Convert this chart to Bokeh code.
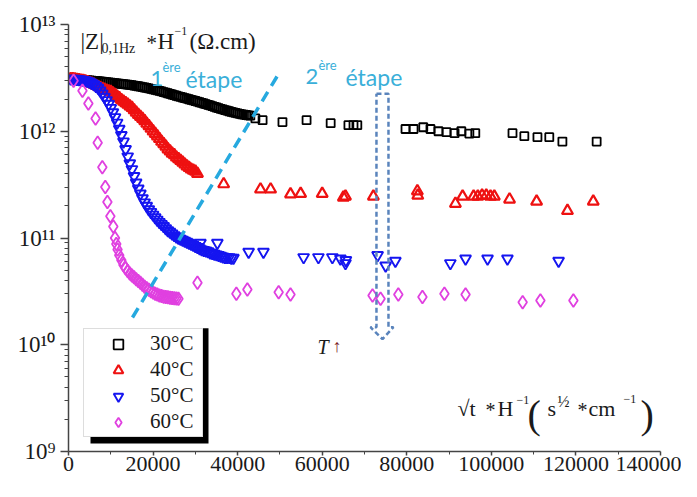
from bokeh.plotting import figure
from bokeh.models import (Legend, LegendItem, Label, BoxAnnotation, FixedTicker,
                          NumeralTickFormatter)
from bokeh.embed import file_html
from bokeh.resources import INLINE

# ---------------- data ----------------
# 30 °C  (|Z| in units of 1e12)
x30 = [500, 1000, 1500, 2000, 2500, 3000, 3500, 4000, 4500, 5000, 5500, 6000, 6500, 7000,
       7500, 8000, 8500, 9000, 9500, 10000, 10500, 11000, 11500, 12000, 12500, 13000,
       13500, 14000, 14500, 15000, 15500, 16000, 16500, 17000, 17500, 18000, 18500,
       19000, 19500, 20000, 20500, 21000, 21500, 22000, 22500, 23000, 23500, 24000,
       24500, 25000, 25500, 26000, 26500, 27000, 27500, 28000, 28500, 29000, 29500,
       30000, 30500, 31000, 31500, 32000, 32500, 33000, 33500, 34000, 34500, 35000,
       35500, 36000, 36500, 37000, 37500, 38000, 38500, 39000, 39500, 40000, 40500,
       41000, 41500, 42000, 42500, 43000,
       44200, 45900, 50600, 56300, 62000, 66200, 67400, 68300,
       79700, 81600, 83900, 85600, 87500, 89400, 91300, 92900, 94800, 96200,
       105000, 107800, 110900, 113700, 116800, 124900]
z30 = [3.09, 3.08, 3.07, 3.06, 3.05, 3.04, 3.03, 3.02, 3.01, 3.00, 2.98, 2.97, 2.955, 2.94,
       2.925, 2.91, 2.895, 2.88, 2.865, 2.85, 2.835, 2.82, 2.805, 2.79, 2.775, 2.76,
       2.745, 2.73, 2.715, 2.70, 2.68, 2.66, 2.64, 2.62, 2.595, 2.57, 2.545,
       2.52, 2.495, 2.47, 2.445, 2.42, 2.39, 2.36, 2.33, 2.30, 2.27, 2.24,
       2.21, 2.18, 2.15, 2.12, 2.095, 2.07, 2.045, 2.02, 1.995, 1.97, 1.945,
       1.92, 1.895, 1.87, 1.845, 1.82, 1.795, 1.77, 1.745, 1.72, 1.695, 1.67,
       1.645, 1.62, 1.60, 1.58, 1.56, 1.54, 1.52, 1.50, 1.485, 1.47, 1.455,
       1.44, 1.43, 1.42, 1.41, 1.40,
       1.32, 1.27, 1.22, 1.27, 1.19, 1.14, 1.14, 1.14,
       1.05, 1.05, 1.09, 1.05, 1.00, 0.98, 0.96, 1.00, 0.95, 0.96,
       0.96, 0.90, 0.88, 0.88, 0.80, 0.80]

# 40 °C (units of 1e12)
x40 = [500, 1000, 1500, 2000, 2500, 3000, 3500, 4000, 4500, 5000, 5500, 6000, 6500, 7000,
       7500, 8000, 8500, 9000, 9500, 10000, 10500, 11000, 11500, 12000, 12500, 13000,
       13500, 14000, 14500, 15000, 15500, 16000, 16500, 17000, 17500, 18000, 18500,
       19000, 19500, 20000, 20500, 21000, 21500, 22000, 22500, 23000, 23500, 24000,
       24500, 25000, 25500, 26000, 26500, 27000, 27500, 28000, 28500, 29000, 29500,
       30000, 30500,
       36700, 45400, 47800, 52500, 54900, 60000, 65000, 65500, 72100, 82500, 82600,
       91500, 93200, 95800, 96800, 97800, 98800, 99800, 100700, 104300, 110700,
       118000, 124100]
z40 = [3.10, 3.10, 3.08, 3.05, 3.03, 3.00, 2.98, 2.95, 2.90, 2.85, 2.80, 2.75, 2.68, 2.62,
       2.56, 2.50, 2.46, 2.42, 2.38, 2.35, 2.28, 2.20, 2.12, 2.05, 1.97, 1.90,
       1.84, 1.78, 1.72, 1.66, 1.58, 1.50, 1.43, 1.37, 1.31, 1.25, 1.18,
       1.12, 1.06, 1.00, 0.95, 0.90, 0.85, 0.80, 0.76, 0.72, 0.68, 0.65,
       0.62, 0.60, 0.57, 0.55, 0.53, 0.51, 0.49, 0.47, 0.455, 0.44, 0.43,
       0.42, 0.40,
       0.32, 0.286, 0.286, 0.257, 0.26, 0.26, 0.24, 0.245, 0.245, 0.275, 0.25,
       0.21, 0.245, 0.245, 0.245, 0.25, 0.25, 0.245, 0.245, 0.23, 0.22,
       0.18, 0.22]

# 50 °C (units of 1e12)
x50 = [500, 1000, 1500, 2000, 2500, 3000, 3500, 4000, 4500, 5000, 5500, 6000, 6500, 7000,
       7500, 8000, 8500, 9000, 9500, 10000, 10500, 11000, 11500, 12000, 12500, 13000,
       13500, 14000, 14500, 15000, 15500, 16000, 16500, 17000, 17500, 18000, 18500,
       19000, 19500, 20000, 20500, 21000, 21500, 22000, 22500, 23000, 23500, 24000,
       24500, 25000, 25500, 26000, 26500, 27000, 27500, 28000, 28500, 29000, 29500,
       30000, 30500, 31000, 31500, 32000, 32500, 33000, 33500, 34000, 34500, 35000,
       35500, 36000, 36500, 37000, 37500, 38000, 38500, 39000,
       31200, 35200, 42600, 46100, 55600, 59100, 62400, 64300, 65500, 65600,
       73100, 75000, 77300, 90300, 93900, 99100, 103800, 115900]
z50 = [3.10, 3.10, 3.09, 3.08, 3.06, 3.05, 3.02, 3.00, 2.95, 2.90, 2.82, 2.75, 2.65, 2.55,
       2.40, 2.25, 2.10, 1.95, 1.80, 1.65, 1.50, 1.35, 1.20, 1.05, 0.92, 0.80,
       0.68, 0.58, 0.50, 0.44, 0.38, 0.33, 0.29, 0.26, 0.235, 0.215, 0.20,
       0.185, 0.175, 0.165, 0.156, 0.148, 0.141, 0.135, 0.129, 0.123, 0.118, 0.114,
       0.110, 0.106, 0.103, 0.100, 0.098, 0.096, 0.094, 0.092, 0.090, 0.088, 0.086,
       0.084, 0.082, 0.080, 0.078, 0.077, 0.076, 0.075, 0.073, 0.072, 0.071, 0.070,
       0.069, 0.068, 0.067, 0.066, 0.066, 0.066, 0.065, 0.065,
       0.090, 0.090, 0.074, 0.074, 0.066, 0.066, 0.066, 0.064, 0.058, 0.062,
       0.069, 0.055, 0.061, 0.058, 0.064, 0.064, 0.064, 0.061]

# 60 °C (units of 1e10)
x60 = [1200, 3300, 4700, 6400, 6900, 8000, 8700, 9200, 9900, 10600, 11000, 11300, 11600,
       12000, 12500, 13000, 13500, 14000, 14500, 15000, 15500, 16000, 16500, 17000,
       17500, 18000, 18500, 19000, 19500, 20000, 20500, 21000, 21500, 22000, 22500,
       23000, 23500, 24000, 24500, 25000, 25500, 26000,
       30500, 39700, 42300, 49700, 52500, 71900, 73800, 78000, 83700, 88900, 93900,
       107400, 111600, 119400]
z60 = [297, 240, 182, 132, 78, 46, 30, 21.7, 16, 12.8, 10.0, 8.8, 7.8,
       6.9, 6.2, 5.6, 5.2, 4.9, 4.65, 4.45, 4.3, 4.1, 3.95, 3.8,
       3.65, 3.5, 3.38, 3.27, 3.17, 3.08, 3.0, 2.95, 2.9, 2.86, 2.82,
       2.8, 2.78, 2.76, 2.74, 2.72, 2.71, 2.70,
       3.8, 3.0, 3.3, 3.1, 2.95, 2.9, 2.7, 2.95, 2.8, 3.0, 2.95,
       2.5, 2.6, 2.6]

series_labels = ["30°C", "40°C", "50°C", "60°C"]
x_ticks = [0, 20000, 40000, 60000, 80000, 100000, 120000, 140000]
y_ticks = [1e9, 1e10, 1e11, 1e12, 1e13]
y_tick_labels = ["10⁹", "10¹⁰", "10¹¹", "10¹²", "10¹³"]

# ---------------- figure ----------------
SERIF = "Liberation Serif"
W, H = 681, 481
BL, BR, BT, BB = 68, 21, 24, 30
p = figure(width=W, height=H, y_axis_type="log",
           x_range=(0, 140000), y_range=(1e9, 1e13),
           output_backend="svg", toolbar_location=None,
           min_border_left=BL, min_border_right=BR, min_border_top=BT,
           min_border_bottom=BB)
p.outline_line_color = None
p.grid.visible = False
p.background_fill_color = "white"

# axes
p.xaxis.ticker = FixedTicker(ticks=x_ticks,
                             minor_ticks=[t + 10000 for t in x_ticks[:-1]])
p.xaxis.formatter = NumeralTickFormatter(format="0")
p.yaxis.ticker = FixedTicker(ticks=y_ticks,
                             minor_ticks=[k * 10.0 ** e for e in range(9, 13) for k in range(2, 10)])
p.yaxis.major_label_overrides = {t: s for t, s in zip(y_ticks, y_tick_labels)}
for ax in (p.xaxis, p.yaxis):
    ax.axis_line_color = "#444444"
    ax.axis_line_width = 1.5
    ax.major_tick_line_color = "#444444"
    ax.minor_tick_line_color = "#444444"
    ax.major_tick_line_width = 1.5
    ax.major_label_text_font = SERIF
    ax.major_label_text_color = "#1a1a1a"
p.xaxis.major_label_text_font_size = "22px"
p.yaxis.major_label_text_font_size = "23px"
p.xaxis.major_tick_out = 4
p.xaxis.major_tick_in = 0
p.xaxis.minor_tick_out = 3
p.xaxis.minor_tick_in = 0
p.xaxis.major_label_standoff = 1
p.yaxis.major_tick_out = 8
p.yaxis.major_tick_in = 0
p.yaxis.minor_tick_out = 4
p.yaxis.minor_tick_in = 0
p.yaxis.major_label_standoff = 5

# data
r30 = p.scatter(x30, [v * 1e12 for v in z30], marker="square", size=8,
                line_color="black", fill_color=None, line_width=1.8)
r40 = p.scatter(x40, [v * 1e12 for v in z40], marker="triangle", size=11,
                line_color="#EE1111", fill_color=None, line_width=2.2)
r50 = p.scatter(x50, [v * 1e12 for v in z50], marker="inverted_triangle", size=11,
                line_color="#1515F0", fill_color=None, line_width=1.9)
r60 = p.scatter(x60, [v * 1e10 for v in z60], marker="diamond", size=13,
                line_color="#E040E0", fill_color=None, line_width=1.8)

# guide lines
p.line([15130, 49420], [1.8e10, 3.31e12], line_color="#26A9DF", line_width=3.5,
       line_dash="11 7")
p.line([72830, 75670, 75670, 76850, 74250, 71410, 72830, 72830],
       [2.25e12, 2.25e12, 1.46e10, 1.46e10, 1.13e10, 1.46e10, 1.46e10, 2.25e12],
       line_color="#5A84BC", line_width=2.5, line_dash="5 3")

# annotation placement helpers (reference pixel -> frame screen units)
FB = H - BB                      # frame bottom (figure px)
K = (FB - BT) / (461.0 - 28.0)   # vertical scale vs. reference


def sx(px):
    return px - BL


def sy(py):
    return K * (461.0 - py)


def lab(text, px, py, size, font=SERIF, color="#1a1a1a", style="normal"):
    p.add_layout(Label(x=sx(px), y=sy(py), x_units="screen", y_units="screen",
                       text=text, text_font=font, text_font_size=size,
                       text_color=color, text_font_style=style,
                       text_baseline="alphabetic", text_align="left"))


shadow = BoxAnnotation(left=sx(90), right=sx(208), bottom=sy(453), top=sy(336),
                       left_units="screen", right_units="screen",
                       bottom_units="screen", top_units="screen",
                       fill_color="black", fill_alpha=1.0, line_color=None)
p.add_layout(shadow)

legend = Legend(items=[LegendItem(label=l, renderers=[r]) for l, r in
                       zip(series_labels, [r30, r40, r50, r60])],
                location=(sx(83), sy(447)), border_line_color="#bbbbbb",
                border_line_width=1, background_fill_color="white",
                background_fill_alpha=1.0, padding=2, spacing=1, margin=0,
                glyph_width=64, glyph_height=24, label_height=24, label_width=50,
                label_standoff=0, label_text_font=SERIF, label_text_font_size="21px",
                label_text_color="#1a1a1a")
p.add_layout(legend)

# y-axis title pieces
lab("|Z|", 80, 45, "23px")
lab("0,1Hz", 101, 52, "14px")
lab("*", 146, 47, "21px")
lab("H", 157, 45, "23px")
lab("−1", 174, 35, "12px")
lab("(Ω.cm)", 189, 45, "23px")

# x-axis title pieces
lab("√t", 457, 417, "22px")
lab("*", 485, 419, "20px")
lab("H", 497, 417, "22px")
lab("−1", 516, 409, "12px")
lab("(", 527, 423, "40px")
lab("s", 547, 417, "22px")
lab("½", 557, 410, "16px")
lab("*", 577, 419, "20px")
lab("cm", 588, 417, "22px")
lab("−1", 623, 408, "12px")
lab(")", 640, 423, "40px")

# step texts
CYAN = "#3AAFD9"
SANS = "Lato"
lab("1", 150, 83, "22px", SANS, CYAN)
lab("ère", 162, 71, "13px", SANS, CYAN)
lab("étape", 185, 83, "23px", SANS, CYAN)
lab("2", 305, 81, "22px", SANS, CYAN)
lab("ère", 318, 69, "13px", SANS, CYAN)
lab("étape", 345, 81, "23px", SANS, CYAN)

# T arrow
lab("T", 317, 355, "20px", SERIF, "#1a1a1a", "italic")
lab("↑", 332, 354, "18px", SERIF, "#7A1F1F")

open("out.html", "w").write(file_html(p, INLINE))
